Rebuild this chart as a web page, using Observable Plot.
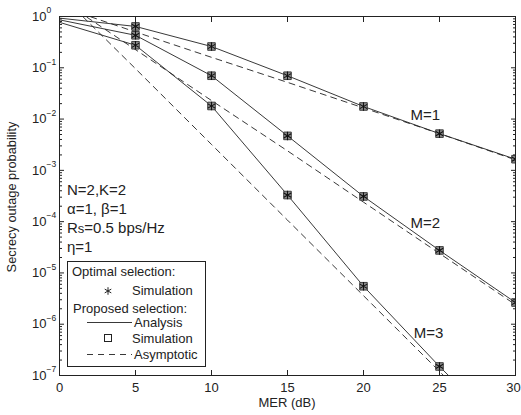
<!DOCTYPE html>
<html>
<head>
<meta charset="utf-8">
<script src="https://cdn.jsdelivr.net/npm/d3@7"></script>
<script src="https://cdn.jsdelivr.net/npm/@observablehq/plot@0.6"></script>
<style>
  html, body { margin: 0; padding: 0; background: #fff; }
  svg { display: block; }
</style>
</head>
<body>
<div id="chart"></div>
<script>
// ---- data ----
const snr = [0, 5, 10, 15, 20, 25, 30];
const anaM1 = [0.93, 0.64, 0.26, 0.070, 0.0176, 0.0052, 0.00165];
const anaM2 = [0.86, 0.43, 0.070, 0.0047, 0.00031, 2.75e-5, 2.65e-6];
const anaM3 = [0.77, 0.275, 0.018, 3.3e-4, 5.5e-6, 1.5e-7, 5e-9];

const simX = [5, 10, 15, 20, 25, 30];
const simM1 = [0.64, 0.26, 0.070, 0.0176, 0.0052, 0.00165];
const simM2 = [0.43, 0.070, 0.0047, 0.00031, 2.75e-5, 2.65e-6];
const simM3 = [0.275, 0.018, 3.3e-4, 5.5e-6, 1.5e-7];

const optM1 = [0.64, 0.26, 0.070, 0.0176, 0.0052, 0.00165];
const optM2 = [0.43, 0.070, 0.0047, 0.00031, 2.75e-5, 2.65e-6];
const optM3 = [0.275, 0.018, 3.3e-4, 5.5e-6, 1.5e-7];

const asyM1 = [1.58, 0.5, 0.16, 0.052, 0.0165, 0.0052, 0.0016];
const asyM2 = [2.2, 0.226, 0.023, 0.0024, 2.4e-4, 2.4e-5, 2.4e-6];
const asyM3 = [2.8, 0.096, 3.2e-3, 1.07e-4, 3.6e-6, 1.2e-7, 4e-9];

const xTicks = [0, 5, 10, 15, 20, 25, 30];
const yTicks = [1, 1e-1, 1e-2, 1e-3, 1e-4, 1e-5, 1e-6, 1e-7];
const yExp = ["0", "\u22121", "\u22122", "\u22123", "\u22124", "\u22125", "\u22126", "\u22127"];
const curveLabels = [
  {x: 23.1, y: 0.0118, text: "M=1"},
  {x: 23.1, y: 9.2e-5, text: "M=2"},
  {x: 23.3, y: 6.6e-7, text: "M=3"}
];

// ---- build tables ----
const series = (xs, ys, name) => xs.map((x, i) => ({x, y: ys[i], s: name})).filter(d => d.y !== undefined);
const ana = [...series(snr, anaM1, "M1"), ...series(snr, anaM2, "M2"), ...series(snr, anaM3, "M3")];
const asy = [...series(snr, asyM1, "M1"), ...series(snr, asyM2, "M2"), ...series(snr, asyM3, "M3")];
const sim = [...series(simX, simM1, "M1"), ...series(simX, simM2, "M2"), ...series(simX, simM3, "M3")];
const opt = [...series(simX, optM1, "M1"), ...series(simX, optM2, "M2"), ...series(simX, optM3, "M3")];

const minorTicks = [];
for (let e = -7; e < 0; e++) for (let m = 2; m <= 9; m++) minorTicks.push(m * Math.pow(10, e));

const FONT = "Liberation Sans, Arial, sans-serif";
const lastTick = xTicks[xTicks.length - 1];

const plot = Plot.plot({
  width: 521,
  height: 415,
  marginLeft: 59,
  marginRight: 6,
  marginTop: 16,
  marginBottom: 40,
  style: {fontFamily: FONT, fontSize: "12.5px", color: "#222", background: "#fff"},
  x: {domain: [0, 30]},
  y: {type: "log", domain: [1e-7, 1]},
  marks: [
    Plot.lineY(asy, {x: "x", y: "y", z: "s", stroke: "#222", strokeWidth: 0.9, strokeDasharray: "6,5", clip: true}),
    Plot.lineY(ana, {x: "x", y: "y", z: "s", stroke: "#222", strokeWidth: 0.9, clip: true}),
    Plot.dot(sim, {x: "x", y: "y", symbol: "square", r: 4.3, fill: "#8c8c8c", stroke: "#333", strokeWidth: 0.9, clip: true}),
    Plot.dot(opt, {x: "x", y: "y", symbol: "asterisk", r: 4, stroke: "#111", strokeWidth: 1.1, clip: true}),
    // axes ticks (inward) on all sides
    Plot.axisX({ticks: xTicks, tickSize: -5, tickFormat: () => "", anchor: "bottom", label: null}),
    Plot.axisX({ticks: xTicks, tickSize: -5, tickFormat: () => "", anchor: "top", label: null}),
    Plot.axisX({ticks: xTicks.slice(0, -1), tickSize: 0, tickPadding: 7, anchor: "bottom", label: null, fontSize: 13}),
    Plot.axisX({ticks: [lastTick], tickSize: 0, tickPadding: 7, anchor: "bottom", label: null, fontSize: 13, dx: -2}),
    Plot.axisY({ticks: yTicks, tickSize: -5, tickFormat: () => "", anchor: "left", label: null}),
    Plot.axisY({ticks: yTicks, tickSize: -5, tickFormat: () => "", anchor: "right", label: null}),
    Plot.axisY({ticks: minorTicks, tickSize: -3, tickFormat: () => "", anchor: "left", label: null}),
    Plot.axisY({ticks: minorTicks, tickSize: -3, tickFormat: () => "", anchor: "right", label: null}),
    // y tick labels with superscripts
    Plot.text(yTicks, {x: () => 0, y: d => d, text: () => "10", textAnchor: "end", dx: -13, fontSize: 13}),
    Plot.text(yTicks, {x: () => 0, y: d => d, text: (d, i) => yExp[i], textAnchor: "start", dx: -13, dy: -6, fontSize: 8.5}),
    Plot.frame({stroke: "#222", strokeWidth: 1}),
    Plot.text(curveLabels, {x: "x", y: "y", text: "text", textAnchor: "start", fontSize: 15})
  ]
});

const svg = d3.select(plot);
svg.selectAll("text").attr("fill", "#222");

// axis labels
svg.append("text").attr("x", 287).attr("y", 407).attr("text-anchor", "middle")
  .attr("font-size", 13).attr("font-family", FONT).attr("fill", "#222").text("MER (dB)");
svg.append("text").attr("transform", "translate(16,197) rotate(-90)").attr("text-anchor", "middle")
  .attr("font-size", 12.8).attr("font-family", FONT).attr("fill", "#222").text("Secrecy outage probability");

// annotation
const notes = svg.append("g").attr("font-family", FONT).attr("font-size", 15).attr("fill", "#222").attr("text-anchor", "start");
notes.append("text").attr("x", 67).attr("y", 195).text("N=2,K=2");
notes.append("text").attr("x", 67).attr("y", 214).text("\u03b1=1, \u03b2=1");
const rs = notes.append("text").attr("x", 67).attr("y", 233);
rs.append("tspan").text("R");
rs.append("tspan").attr("font-size", 13).text("s");
rs.append("tspan").text("=0.5 bps/Hz");
notes.append("text").attr("x", 67).attr("y", 252).text("\u03b7=1");

// legend
const lg = svg.append("g").attr("font-family", FONT).attr("font-size", 13).attr("fill", "#222").attr("text-anchor", "start");
lg.append("rect").attr("x", 67.5).attr("y", 261.5).attr("width", 138).attr("height", 105)
  .attr("fill", "#fff").attr("stroke", "#222").attr("stroke-width", 1);
lg.append("text").attr("x", 72).attr("y", 276).text("Optimal selection:");
lg.append("path").attr("d", d3.symbol(d3.symbolAsterisk, 40)()).attr("transform", "translate(108,291)")
  .attr("stroke", "#222").attr("fill", "none").attr("stroke-width", 1);
lg.append("text").attr("x", 132).attr("y", 295).text("Simulation");
lg.append("text").attr("x", 73).attr("y", 313).text("Proposed selection:");
lg.append("line").attr("x1", 87).attr("x2", 132).attr("y1", 322.5).attr("y2", 322.5).attr("stroke", "#222").attr("stroke-width", 0.9);
lg.append("text").attr("x", 134).attr("y", 327).text("Analysis");
lg.append("rect").attr("x", 104.5).attr("y", 334.5).attr("width", 7).attr("height", 7).attr("fill", "none").attr("stroke", "#222");
lg.append("text").attr("x", 132).attr("y", 343).text("Simulation");
lg.append("line").attr("x1", 87).attr("x2", 132).attr("y1", 354.5).attr("y2", 354.5).attr("stroke", "#222").attr("stroke-width", 0.9).attr("stroke-dasharray", "6,5");
lg.append("text").attr("x", 134).attr("y", 359).text("Asymptotic");

document.getElementById("chart").appendChild(plot);
</script>
</body>
</html>
